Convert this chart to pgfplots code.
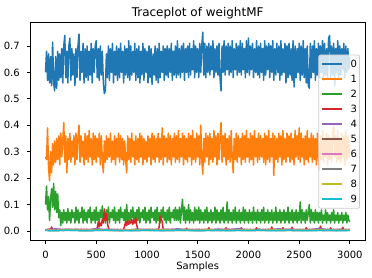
\documentclass[border=0pt]{standalone}
\usepackage{fontspec}
\setmainfont{DejaVu Sans}
\usepackage{pgfplots}
\usepackage{pgfplotstable}
\pgfplotsset{compat=1.18}
\definecolor{c0}{HTML}{1F77B4}
\definecolor{c1}{HTML}{FF7F0E}
\definecolor{c2}{HTML}{2CA02C}
\definecolor{c3}{HTML}{D62728}
\definecolor{c4}{HTML}{9467BD}
\definecolor{c5}{HTML}{8C564B}
\definecolor{c6}{HTML}{E377C2}
\definecolor{c7}{HTML}{7F7F7F}
\definecolor{c8}{HTML}{BCBD22}
\definecolor{c9}{HTML}{17BECF}
\definecolor{legframe}{HTML}{CCCCCC}
\pgfplotstableread[row sep=\\]{v\\
0.60\\ 0.68\\ 0.57\\ 0.67\\ 0.56\\ 0.66\\ 0.55\\ 0.715\\ 0.56\\ 0.53\\
0.66\\ 0.54\\ 0.68\\ 0.57\\ 0.67\\ 0.58\\ 0.69\\ 0.56\\ 0.70\\ 0.74\\
0.58\\ 0.68\\ 0.56\\ 0.70\\ 0.73\\ 0.57\\ 0.69\\ 0.59\\ 0.67\\ 0.55\\
0.69\\ 0.58\\ 0.70\\ 0.745\\ 0.57\\ 0.68\\ 0.60\\ 0.71\\ 0.56\\ 0.69\\
0.58\\ 0.70\\ 0.57\\ 0.68\\ 0.59\\ 0.71\\ 0.56\\ 0.69\\ 0.60\\ 0.70\\
0.72\\ 0.58\\ 0.69\\ 0.57\\ 0.70\\ 0.59\\ 0.68\\ 0.56\\ 0.52\\ 0.53\\
0.67\\ 0.58\\ 0.70\\ 0.57\\ 0.69\\ 0.60\\ 0.71\\ 0.56\\ 0.68\\ 0.59\\
0.70\\ 0.57\\ 0.69\\ 0.58\\ 0.71\\ 0.60\\ 0.68\\ 0.56\\ 0.70\\ 0.59\\
0.69\\ 0.58\\ 0.72\\ 0.57\\ 0.70\\ 0.59\\ 0.68\\ 0.60\\ 0.71\\ 0.57\\
0.69\\ 0.58\\ 0.70\\ 0.56\\ 0.68\\ 0.59\\ 0.71\\ 0.57\\ 0.69\\ 0.60\\
0.68\\ 0.56\\ 0.70\\ 0.58\\ 0.69\\ 0.555\\ 0.67\\ 0.59\\ 0.70\\ 0.57\\
0.69\\ 0.56\\ 0.71\\ 0.58\\ 0.68\\ 0.60\\ 0.70\\ 0.57\\ 0.69\\ 0.59\\
0.70\\ 0.58\\ 0.69\\ 0.60\\ 0.71\\ 0.57\\ 0.68\\ 0.59\\ 0.70\\ 0.58\\
0.72\\ 0.59\\ 0.69\\ 0.58\\ 0.70\\ 0.60\\ 0.71\\ 0.57\\ 0.69\\ 0.60\\
0.70\\ 0.58\\ 0.71\\ 0.59\\ 0.69\\ 0.61\\ 0.72\\ 0.58\\ 0.70\\ 0.60\\
0.69\\ 0.58\\ 0.71\\ 0.60\\ 0.70\\ 0.752\\ 0.59\\ 0.71\\ 0.58\\ 0.70\\
0.60\\ 0.71\\ 0.59\\ 0.70\\ 0.61\\ 0.72\\ 0.58\\ 0.69\\ 0.60\\ 0.70\\
0.59\\ 0.71\\ 0.58\\ 0.53\\ 0.70\\ 0.60\\ 0.72\\ 0.59\\ 0.70\\ 0.61\\
0.71\\ 0.59\\ 0.70\\ 0.60\\ 0.72\\ 0.58\\ 0.69\\ 0.61\\ 0.71\\ 0.59\\
0.70\\ 0.60\\ 0.72\\ 0.59\\ 0.71\\ 0.61\\ 0.69\\ 0.58\\ 0.72\\ 0.60\\
0.73\\ 0.59\\ 0.70\\ 0.61\\ 0.71\\ 0.58\\ 0.69\\ 0.60\\ 0.72\\ 0.59\\
0.70\\ 0.58\\ 0.71\\ 0.60\\ 0.69\\ 0.57\\ 0.72\\ 0.59\\ 0.70\\ 0.61\\
0.71\\ 0.58\\ 0.70\\ 0.60\\ 0.72\\ 0.57\\ 0.69\\ 0.59\\ 0.71\\ 0.60\\
0.70\\ 0.57\\ 0.72\\ 0.59\\ 0.69\\ 0.60\\ 0.71\\ 0.56\\ 0.70\\ 0.58\\
0.71\\ 0.59\\ 0.69\\ 0.57\\ 0.72\\ 0.545\\ 0.70\\ 0.58\\ 0.69\\ 0.60\\
0.71\\ 0.57\\ 0.70\\ 0.59\\ 0.72\\ 0.58\\ 0.69\\ 0.56\\ 0.70\\ 0.55\\
0.54\\ 0.71\\ 0.58\\ 0.70\\ 0.60\\ 0.72\\ 0.57\\ 0.69\\ 0.59\\ 0.71\\
0.58\\ 0.70\\ 0.60\\ 0.72\\ 0.57\\ 0.71\\ 0.59\\ 0.69\\ 0.58\\ 0.73\\
0.74\\ 0.58\\ 0.70\\ 0.59\\ 0.71\\ 0.55\\ 0.69\\ 0.60\\ 0.72\\ 0.58\\
0.70\\ 0.59\\ 0.69\\ 0.61\\ 0.71\\ 0.58\\ 0.70\\ 0.60\\ 0.69\\ 0.61\\
0.66\\
}\seriesA
\pgfplotstableread[row sep=\\]{v\\
0.28\\ 0.27\\ 0.39\\ 0.24\\ 0.19\\ 0.30\\ 0.22\\ 0.33\\ 0.25\\ 0.34\\
0.26\\ 0.35\\ 0.27\\ 0.36\\ 0.25\\ 0.37\\ 0.28\\ 0.34\\ 0.41\\ 0.26\\
0.36\\ 0.22\\ 0.35\\ 0.27\\ 0.37\\ 0.26\\ 0.34\\ 0.28\\ 0.36\\ 0.25\\
0.37\\ 0.27\\ 0.35\\ 0.40\\ 0.26\\ 0.36\\ 0.28\\ 0.34\\ 0.25\\ 0.37\\
0.27\\ 0.36\\ 0.26\\ 0.38\\ 0.28\\ 0.35\\ 0.25\\ 0.37\\ 0.27\\ 0.36\\
0.26\\ 0.35\\ 0.28\\ 0.37\\ 0.25\\ 0.36\\ 0.27\\ 0.22\\ 0.34\\ 0.26\\
0.36\\ 0.27\\ 0.35\\ 0.28\\ 0.37\\ 0.26\\ 0.34\\ 0.27\\ 0.36\\ 0.25\\
0.35\\ 0.28\\ 0.37\\ 0.26\\ 0.36\\ 0.27\\ 0.35\\ 0.25\\ 0.34\\ 0.27\\
0.22\\ 0.36\\ 0.27\\ 0.35\\ 0.26\\ 0.37\\ 0.28\\ 0.34\\ 0.25\\ 0.36\\
0.27\\ 0.35\\ 0.26\\ 0.37\\ 0.28\\ 0.36\\ 0.25\\ 0.35\\ 0.27\\ 0.34\\
0.26\\ 0.36\\ 0.28\\ 0.35\\ 0.25\\ 0.37\\ 0.27\\ 0.36\\ 0.26\\ 0.35\\
0.28\\ 0.37\\ 0.26\\ 0.35\\ 0.27\\ 0.39\\ 0.25\\ 0.36\\ 0.28\\ 0.35\\
0.26\\ 0.37\\ 0.27\\ 0.36\\ 0.25\\ 0.35\\ 0.28\\ 0.37\\ 0.26\\ 0.36\\
0.27\\ 0.38\\ 0.26\\ 0.35\\ 0.28\\ 0.37\\ 0.25\\ 0.36\\ 0.27\\ 0.35\\
0.26\\ 0.37\\ 0.28\\ 0.36\\ 0.25\\ 0.38\\ 0.27\\ 0.35\\ 0.26\\ 0.37\\
0.28\\ 0.36\\ 0.25\\ 0.40\\ 0.27\\ 0.215\\ 0.35\\ 0.26\\ 0.37\\ 0.28\\
0.36\\ 0.25\\ 0.37\\ 0.27\\ 0.35\\ 0.26\\ 0.38\\ 0.28\\ 0.36\\ 0.25\\
0.37\\ 0.27\\ 0.35\\ 0.41\\ 0.26\\ 0.36\\ 0.28\\ 0.37\\ 0.25\\ 0.35\\
0.27\\ 0.36\\ 0.26\\ 0.38\\ 0.28\\ 0.22\\ 0.35\\ 0.27\\ 0.37\\ 0.26\\
0.36\\ 0.28\\ 0.35\\ 0.25\\ 0.37\\ 0.27\\ 0.36\\ 0.26\\ 0.38\\ 0.28\\
0.35\\ 0.26\\ 0.37\\ 0.27\\ 0.36\\ 0.25\\ 0.38\\ 0.28\\ 0.35\\ 0.26\\
0.37\\ 0.27\\ 0.36\\ 0.28\\ 0.35\\ 0.26\\ 0.37\\ 0.25\\ 0.36\\ 0.27\\
0.38\\ 0.26\\ 0.35\\ 0.28\\ 0.37\\ 0.21\\ 0.36\\ 0.27\\ 0.35\\ 0.26\\
0.37\\ 0.28\\ 0.36\\ 0.25\\ 0.38\\ 0.27\\ 0.35\\ 0.26\\ 0.37\\ 0.28\\
0.36\\ 0.26\\ 0.37\\ 0.27\\ 0.35\\ 0.25\\ 0.38\\ 0.28\\ 0.36\\ 0.27\\
0.39\\ 0.26\\ 0.37\\ 0.28\\ 0.35\\ 0.25\\ 0.36\\ 0.27\\ 0.38\\ 0.26\\
0.35\\ 0.28\\ 0.37\\ 0.26\\ 0.36\\ 0.27\\ 0.35\\ 0.25\\ 0.37\\ 0.28\\
0.23\\ 0.36\\ 0.27\\ 0.38\\ 0.26\\ 0.35\\ 0.28\\ 0.37\\ 0.25\\ 0.36\\
0.27\\ 0.35\\ 0.26\\ 0.37\\ 0.40\\ 0.28\\ 0.36\\ 0.26\\ 0.38\\ 0.27\\
0.35\\ 0.26\\ 0.37\\ 0.28\\ 0.36\\ 0.25\\ 0.38\\ 0.27\\ 0.36\\ 0.28\\
0.33\\
}\seriesB
\pgfplotstableread[row sep=\\]{v\\
0.10\\ 0.17\\ 0.08\\ 0.13\\ 0.04\\ 0.12\\ 0.16\\ 0.09\\ 0.18\\ 0.08\\
0.15\\ 0.07\\ 0.14\\ 0.05\\ 0.08\\ 0.02\\ 0.07\\ 0.03\\ 0.08\\ 0.04\\
0.07\\ 0.03\\ 0.085\\ 0.04\\ 0.07\\ 0.03\\ 0.08\\ 0.05\\ 0.07\\ 0.03\\
0.09\\ 0.04\\ 0.08\\ 0.03\\ 0.07\\ 0.05\\ 0.09\\ 0.03\\ 0.08\\ 0.04\\
0.07\\ 0.03\\ 0.08\\ 0.05\\ 0.09\\ 0.03\\ 0.07\\ 0.04\\ 0.08\\ 0.03\\
0.09\\ 0.04\\ 0.07\\ 0.03\\ 0.08\\ 0.05\\ 0.095\\ 0.04\\ 0.07\\ 0.03\\
0.08\\ 0.04\\ 0.09\\ 0.03\\ 0.07\\ 0.05\\ 0.08\\ 0.04\\ 0.09\\ 0.03\\
0.07\\ 0.04\\ 0.08\\ 0.03\\ 0.09\\ 0.05\\ 0.07\\ 0.04\\ 0.08\\ 0.03\\
0.10\\ 0.04\\ 0.07\\ 0.03\\ 0.08\\ 0.05\\ 0.09\\ 0.04\\ 0.07\\ 0.03\\
0.08\\ 0.04\\ 0.09\\ 0.03\\ 0.07\\ 0.05\\ 0.08\\ 0.04\\ 0.09\\ 0.03\\
0.07\\ 0.04\\ 0.08\\ 0.03\\ 0.09\\ 0.05\\ 0.07\\ 0.04\\ 0.08\\ 0.03\\
0.09\\ 0.04\\ 0.07\\ 0.03\\ 0.08\\ 0.05\\ 0.09\\ 0.04\\ 0.07\\ 0.03\\
0.08\\ 0.04\\ 0.09\\ 0.03\\ 0.07\\ 0.05\\ 0.08\\ 0.04\\ 0.09\\ 0.04\\
0.08\\ 0.04\\ 0.09\\ 0.03\\ 0.08\\ 0.12\\ 0.04\\ 0.09\\ 0.03\\ 0.08\\
0.04\\ 0.10\\ 0.03\\ 0.08\\ 0.04\\ 0.07\\ 0.03\\ 0.09\\ 0.04\\ 0.08\\
0.04\\ 0.09\\ 0.03\\ 0.08\\ 0.04\\ 0.07\\ 0.03\\ 0.08\\ 0.04\\ 0.09\\
0.03\\ 0.07\\ 0.04\\ 0.08\\ 0.03\\ 0.07\\ 0.04\\ 0.09\\ 0.03\\ 0.08\\
0.04\\ 0.07\\ 0.03\\ 0.08\\ 0.04\\ 0.09\\ 0.03\\ 0.07\\ 0.04\\ 0.11\\
0.03\\ 0.08\\ 0.04\\ 0.07\\ 0.03\\ 0.08\\ 0.04\\ 0.09\\ 0.03\\ 0.07\\
0.04\\ 0.08\\ 0.03\\ 0.07\\ 0.04\\ 0.09\\ 0.03\\ 0.08\\ 0.04\\ 0.07\\
0.03\\ 0.08\\ 0.04\\ 0.07\\ 0.03\\ 0.09\\ 0.04\\ 0.07\\ 0.03\\ 0.08\\
0.04\\ 0.07\\ 0.03\\ 0.08\\ 0.04\\ 0.09\\ 0.03\\ 0.07\\ 0.04\\ 0.08\\
0.03\\ 0.07\\ 0.04\\ 0.08\\ 0.03\\ 0.07\\ 0.04\\ 0.09\\ 0.03\\ 0.07\\
0.04\\ 0.08\\ 0.03\\ 0.07\\ 0.04\\ 0.08\\ 0.03\\ 0.07\\ 0.04\\ 0.09\\
0.03\\ 0.07\\ 0.04\\ 0.08\\ 0.03\\ 0.07\\ 0.04\\ 0.08\\ 0.03\\ 0.07\\
0.04\\ 0.11\\ 0.03\\ 0.08\\ 0.04\\ 0.07\\ 0.03\\ 0.08\\ 0.04\\ 0.07\\
0.10\\ 0.03\\ 0.08\\ 0.04\\ 0.07\\ 0.03\\ 0.08\\ 0.04\\ 0.07\\ 0.03\\
0.07\\ 0.04\\ 0.08\\ 0.03\\ 0.06\\ 0.04\\ 0.08\\ 0.03\\ 0.07\\ 0.04\\
0.06\\ 0.03\\ 0.07\\ 0.04\\ 0.08\\ 0.03\\ 0.06\\ 0.04\\ 0.07\\ 0.03\\
0.06\\ 0.04\\ 0.07\\ 0.03\\ 0.06\\ 0.04\\ 0.07\\ 0.03\\ 0.06\\ 0.04\\
0.035\\
}\seriesC
\pgfplotstableread[row sep=\\]{v\\
0.005\\ 0.004\\ 0.006\\ 0.005\\ 0.008\\ 0.004\\ 0.015\\ 0.006\\ 0.004\\ 0.005\\
0.004\\ 0.006\\ 0.005\\ 0.004\\ 0.007\\ 0.005\\ 0.004\\ 0.006\\ 0.005\\ 0.004\\
0.006\\ 0.005\\ 0.004\\ 0.007\\ 0.005\\ 0.004\\ 0.006\\ 0.005\\ 0.004\\ 0.006\\
0.005\\ 0.004\\ 0.006\\ 0.005\\ 0.004\\ 0.007\\ 0.005\\ 0.004\\ 0.006\\ 0.005\\
0.004\\ 0.006\\ 0.005\\ 0.004\\ 0.006\\ 0.005\\ 0.004\\ 0.007\\ 0.005\\ 0.004\\
0.006\\ 0.012\\ 0.035\\ 0.015\\ 0.03\\ 0.02\\ 0.045\\ 0.03\\ 0.083\\ 0.04\\
0.065\\ 0.03\\ 0.012\\ 0.005\\ 0.004\\ 0.006\\ 0.005\\ 0.004\\ 0.006\\ 0.005\\
0.004\\ 0.006\\ 0.005\\ 0.004\\ 0.006\\ 0.005\\ 0.004\\ 0.006\\ 0.02\\ 0.035\\
0.02\\ 0.04\\ 0.025\\ 0.035\\ 0.03\\ 0.045\\ 0.025\\ 0.04\\ 0.03\\ 0.05\\
0.02\\ 0.006\\ 0.004\\ 0.005\\ 0.006\\ 0.004\\ 0.005\\ 0.006\\ 0.004\\ 0.005\\
0.006\\ 0.004\\ 0.005\\ 0.006\\ 0.004\\ 0.005\\ 0.006\\ 0.004\\ 0.005\\ 0.006\\
0.004\\ 0.005\\ 0.015\\ 0.057\\ 0.045\\ 0.035\\ 0.006\\ 0.004\\ 0.005\\ 0.006\\
0.004\\ 0.005\\ 0.006\\ 0.004\\ 0.005\\ 0.007\\ 0.004\\ 0.005\\ 0.006\\ 0.004\\
0.005\\ 0.006\\ 0.004\\ 0.005\\ 0.006\\ 0.004\\ 0.005\\ 0.006\\ 0.004\\ 0.01\\
0.005\\ 0.004\\ 0.006\\ 0.005\\ 0.004\\ 0.006\\ 0.005\\ 0.004\\ 0.006\\ 0.005\\
0.004\\ 0.006\\ 0.005\\ 0.004\\ 0.006\\ 0.005\\ 0.004\\ 0.006\\ 0.005\\ 0.004\\
0.006\\ 0.012\\ 0.005\\ 0.004\\ 0.006\\ 0.005\\ 0.004\\ 0.006\\ 0.005\\ 0.004\\
0.006\\ 0.005\\ 0.004\\ 0.006\\ 0.005\\ 0.004\\ 0.006\\ 0.005\\ 0.012\\ 0.004\\
0.005\\ 0.006\\ 0.004\\ 0.005\\ 0.006\\ 0.004\\ 0.005\\ 0.006\\ 0.004\\ 0.005\\
0.006\\ 0.004\\ 0.005\\ 0.012\\ 0.004\\ 0.005\\ 0.006\\ 0.004\\ 0.005\\ 0.006\\
0.004\\ 0.005\\ 0.006\\ 0.004\\ 0.005\\ 0.006\\ 0.004\\ 0.005\\ 0.012\\ 0.004\\
0.005\\ 0.006\\ 0.004\\ 0.005\\ 0.006\\ 0.004\\ 0.005\\ 0.006\\ 0.004\\ 0.005\\
0.006\\ 0.004\\ 0.005\\ 0.015\\ 0.004\\ 0.005\\ 0.006\\ 0.004\\ 0.005\\ 0.006\\
0.004\\ 0.005\\ 0.006\\ 0.004\\ 0.012\\ 0.006\\ 0.004\\ 0.005\\ 0.006\\ 0.004\\
0.005\\ 0.006\\ 0.004\\ 0.014\\ 0.005\\ 0.006\\ 0.004\\ 0.005\\ 0.006\\ 0.004\\
0.005\\ 0.006\\ 0.004\\ 0.005\\ 0.006\\ 0.004\\ 0.005\\ 0.012\\ 0.004\\ 0.005\\
0.006\\ 0.004\\ 0.005\\ 0.006\\ 0.004\\ 0.005\\ 0.006\\ 0.004\\ 0.005\\ 0.006\\
0.004\\ 0.018\\ 0.006\\ 0.005\\ 0.004\\ 0.006\\ 0.005\\ 0.004\\ 0.006\\ 0.005\\
0.004\\ 0.012\\ 0.005\\ 0.004\\ 0.006\\ 0.005\\ 0.004\\ 0.006\\ 0.005\\ 0.004\\
0.006\\ 0.005\\ 0.004\\ 0.014\\ 0.005\\ 0.004\\ 0.006\\ 0.005\\ 0.004\\ 0.006\\
0.005\\
}\seriesD
\begin{document}
\begin{tikzpicture}
\path[use as bounding box] (-30.3pt,-37.1pt) rectangle (341.7pt,240.9pt);
\begin{axis}[
  at={(0pt,0pt)}, anchor=south west,
  scale only axis, width=334.7pt, height=218.6pt,
  xmin=-150, xmax=3149, ymin=-0.0376, ymax=0.7896,
  xtick={0,500,1000,1500,2000,2500,3000},
  ytick={0,0.1,0.2,0.3,0.4,0.5,0.6,0.7},
  /pgf/number format/assume math mode=true,
  yticklabel style={/pgf/number format/.cd, fixed, fixed zerofill, precision=1, /tikz/.cd, xshift=-3.5pt},
  xticklabel style={/pgf/number format/1000 sep={}, yshift=-3.5pt},
  tick align=outside, xtick pos=left, ytick pos=left,
  major tick length=3.5pt,
  every tick/.style={black, line width=0.8pt},
  axis line style={line width=0.8pt, black},
  tick label style={font=\fontsize{10}{12}\selectfont},
  title={Traceplot of weightMF},
  title style={font=\fontsize{12}{14}\selectfont, at={(0.5,1)}, anchor=base, yshift=-0.4pt},
  xlabel={Samples},
  xlabel style={font=\fontsize{10}{12}\selectfont, at={(0.5,0)}, anchor=base, yshift=-28.4pt},
  legend cell align=left,
  legend image code/.code={\draw[#1, line width=1.5pt] (0pt,0pt) -- (20pt,0pt);},
  legend style={at={(0.985,0.5)}, anchor=east, font=\fontsize{10}{12}\selectfont,
    fill=white, fill opacity=0.8, draw opacity=1, text opacity=1,
    draw=legframe, line width=0.8pt, rounded corners=2pt,
    inner xsep=2.5pt, inner ysep=5.5pt, row sep=7.7pt,
    nodes={inner sep=0pt, text height=7.3pt, text depth=0pt},
    /tikz/every odd column/.append style={column sep=8pt}},
  every axis plot/.append style={line width=1.5pt, line join=round},
]
\addplot[c0] table[x expr=\coordindex*10, y=v] {\seriesA};
\addlegendentry{0}
\addplot[c1] table[x expr=\coordindex*10, y=v] {\seriesB};
\addlegendentry{1}
\addplot[c2] table[x expr=\coordindex*10, y=v] {\seriesC};
\addlegendentry{2}
\addplot[c3] table[x expr=\coordindex*10, y=v] {\seriesD};
\addlegendentry{3}
\addplot[c4] table[row sep=\\, x expr=\coordindex*100, y index=0] {v\\
0.004\\ 0.008\\ 0.003\\ 0.006\\ 0.002\\ 0.009\\ 0.004\\ 0.005\\ 0.003\\ 0.007\\
0.004\\ 0.006\\ 0.003\\ 0.008\\ 0.004\\ 0.005\\ 0.003\\ 0.007\\ 0.004\\ 0.009\\
0.003\\ 0.006\\ 0.004\\ 0.008\\ 0.003\\ 0.005\\ 0.004\\ 0.010\\ 0.003\\ 0.006\\ 0.004\\
};
\addlegendentry{4}
\addplot[c5] table[row sep=\\, x expr=\coordindex*100, y index=0] {v\\
0.003\\ 0.004\\ 0.002\\ 0.005\\ 0.003\\ 0.004\\ 0.002\\ 0.004\\ 0.003\\ 0.005\\
0.002\\ 0.004\\ 0.003\\ 0.004\\ 0.002\\ 0.005\\ 0.003\\ 0.004\\ 0.002\\ 0.004\\
0.003\\ 0.005\\ 0.002\\ 0.004\\ 0.003\\ 0.004\\ 0.002\\ 0.005\\ 0.003\\ 0.004\\ 0.003\\
};
\addlegendentry{5}
\addplot[c6] table[row sep=\\, x expr=\coordindex*100, y index=0] {v\\
0.005\\ 0.003\\ 0.007\\ 0.004\\ 0.006\\ 0.003\\ 0.007\\ 0.004\\ 0.005\\ 0.003\\
0.006\\ 0.004\\ 0.007\\ 0.003\\ 0.005\\ 0.004\\ 0.006\\ 0.003\\ 0.007\\ 0.004\\
0.005\\ 0.003\\ 0.006\\ 0.004\\ 0.007\\ 0.003\\ 0.005\\ 0.004\\ 0.006\\ 0.003\\ 0.005\\
};
\addlegendentry{6}
\addplot[c7] table[row sep=\\, x expr=\coordindex*100, y index=0] {v\\
0.002\\ 0.001\\ 0.003\\ 0.002\\ 0.001\\ 0.002\\ 0.003\\ 0.001\\ 0.002\\ 0.001\\
0.003\\ 0.002\\ 0.001\\ 0.002\\ 0.003\\ 0.001\\ 0.002\\ 0.001\\ 0.003\\ 0.002\\
0.001\\ 0.002\\ 0.003\\ 0.001\\ 0.002\\ 0.001\\ 0.003\\ 0.002\\ 0.001\\ 0.002\\ 0.002\\
};
\addlegendentry{7}
\addplot[c8] table[row sep=\\, x expr=\coordindex*100, y index=0] {v\\
0.003\\ 0.002\\ 0.004\\ 0.003\\ 0.002\\ 0.004\\ 0.003\\ 0.002\\ 0.003\\ 0.004\\
0.002\\ 0.003\\ 0.004\\ 0.002\\ 0.003\\ 0.002\\ 0.004\\ 0.003\\ 0.002\\ 0.003\\
0.004\\ 0.002\\ 0.003\\ 0.004\\ 0.002\\ 0.003\\ 0.002\\ 0.004\\ 0.003\\ 0.002\\ 0.003\\
};
\addlegendentry{8}
\addplot[c9] table[row sep=\\, x expr=\coordindex*100, y index=0] {v\\
0.002\\ 0.001\\ 0.003\\ 0.002\\ 0.001\\ 0.002\\ 0.003\\ 0.002\\ 0.001\\ 0.002\\
0.003\\ 0.001\\ 0.002\\ 0.003\\ 0.002\\ 0.001\\ 0.002\\ 0.003\\ 0.001\\ 0.002\\
0.002\\ 0.003\\ 0.001\\ 0.002\\ 0.003\\ 0.002\\ 0.001\\ 0.002\\ 0.003\\ 0.001\\ 0.002\\
};
\addlegendentry{9}
\end{axis}
\end{tikzpicture}
\end{document}
